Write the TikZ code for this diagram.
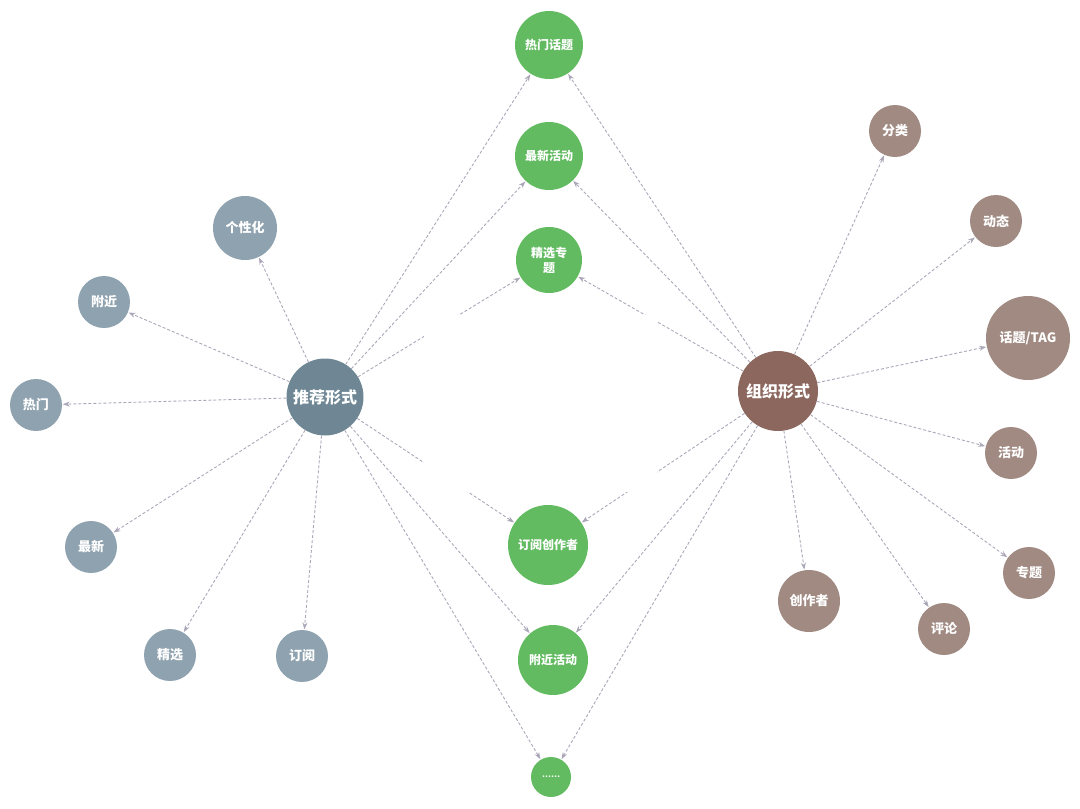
\documentclass[tikz,border=0pt]{standalone}
\usepackage{fontspec}
\setmainfont{Noto Sans CJK SC}
\usetikzlibrary{arrows.meta}
\definecolor{greyN}{HTML}{8FA2AF}
\definecolor{greyHub}{HTML}{6F8795}
\definecolor{brownN}{HTML}{A08A82}
\definecolor{brownHub}{HTML}{8B675E}
\definecolor{greenN}{HTML}{62BB61}
\definecolor{lineC}{HTML}{ACA7B8}
\tikzset{
  base/.style={circle, inner sep=0pt, text=white, align=center},
  gnode/.style={base, fill=greyN, minimum size=52pt, font=\bfseries\fontsize{13}{15}\selectfont},
  bnode/.style={base, fill=brownN, minimum size=52pt, font=\bfseries\fontsize{13}{15}\selectfont},
  hubA/.style={base, fill=greyHub, minimum size=77pt, font=\bfseries\fontsize{16}{18}\selectfont},
  hubB/.style={base, fill=brownHub, minimum size=80pt, font=\bfseries\fontsize{16}{18}\selectfont},
  gr/.style={base, fill=greenN, minimum size=68pt, font=\bfseries\fontsize{12}{15}\selectfont},
  conn/.style={draw=lineC, dash pattern=on 3pt off 2pt, line width=0.9pt, -{Stealth[length=7pt,width=5pt]}, shorten >=0.5pt},
}
\begin{document}
\begin{tikzpicture}[x=1pt,y=-1pt]
\useasboundingbox (0,0) rectangle (1080,809);
% hubs
\node[hubA] (tj) at (325,397) {推荐形式};
\node[hubB] (zz) at (778,391) {组织形式};
% green
\node[gr] (g1) at (549,45) {热门话题};
\node[gr] (g2) at (549,156) {最新活动};
\node[gr, minimum size=66pt] (g3) at (549,260) {精选专\\题};
\node[gr, minimum size=80pt] (g4) at (548,545) {订阅创作者};
\node[gr, minimum size=70pt] (g5) at (553,660) {附近活动};
\node[gr, minimum size=40pt, font=\bfseries\fontsize{8}{10}\selectfont] (g6) at (551,777) {……};
% grey
\node[gnode, minimum size=64pt] (a1) at (245,228) {个性化};
\node[gnode] (a2) at (104,302) {附近};
\node[gnode] (a3) at (36,405) {热门};
\node[gnode] (a4) at (91,547) {最新};
\node[gnode] (a5) at (170,655) {精选};
\node[gnode] (a6) at (302,656) {订阅};
% brown
\node[bnode] (b1) at (895,131) {分类};
\node[bnode] (b2) at (996,221) {动态};
\node[bnode, minimum size=84pt] (b3) at (1028,338) {话题/TAG};
\node[bnode] (b4) at (1011,453) {活动};
\node[bnode] (b5) at (1029,573) {专题};
\node[bnode, minimum size=62pt] (b6) at (809,601) {创作者};
\node[bnode] (b7) at (944,629) {评论};
% edges from 推荐形式
\foreach \t in {a1,a2,a3,a4,a5,a6,g1,g2,g3,g4,g5,g6}
  \draw[conn] (tj) -- (\t);
% edges from 组织形式
\foreach \t in {b1,b2,b3,b4,b5,b6,b7,g1,g2,g3,g4,g5,g6}
  \draw[conn] (zz) -- (\t);
% white gap region
\fill[white] (424,315) rectangle (657,492);
\end{tikzpicture}
\end{document}
